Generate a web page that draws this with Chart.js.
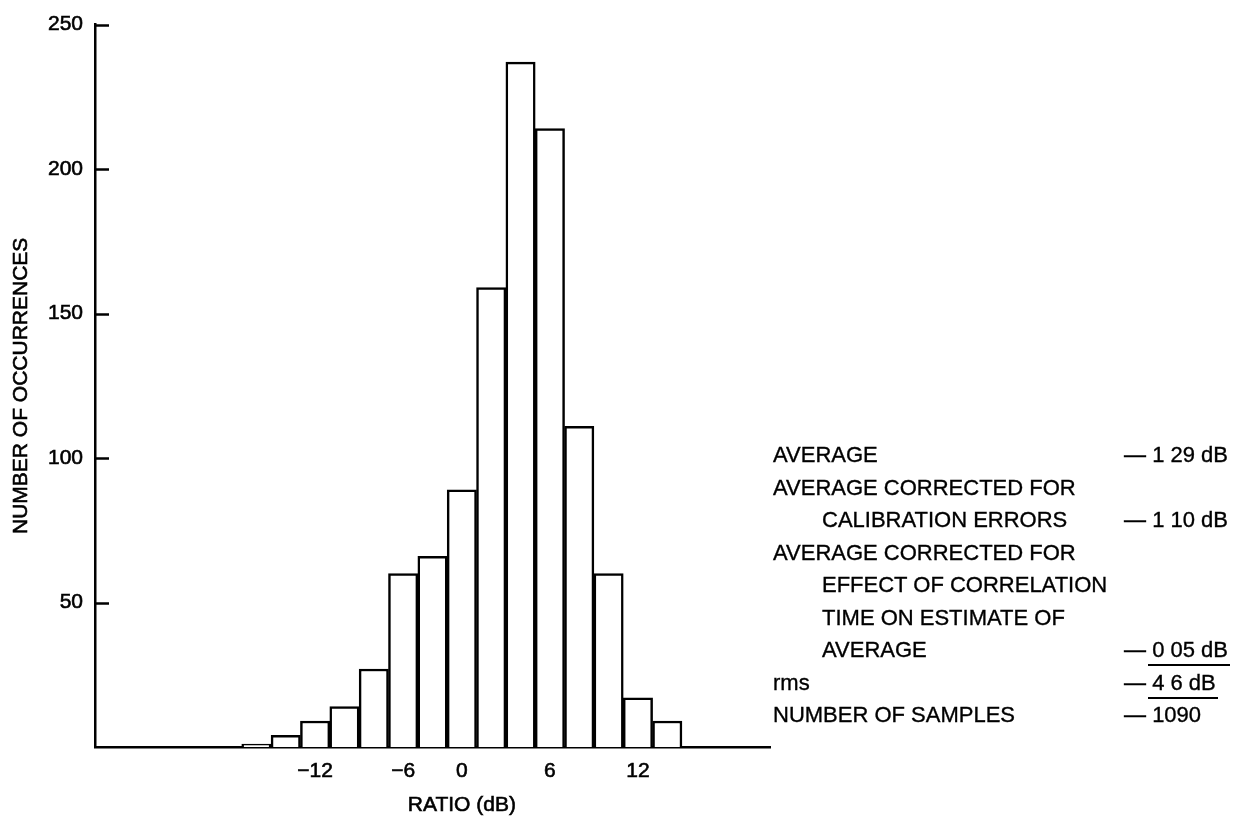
<!DOCTYPE html>
<html>
<head>
<meta charset="utf-8">
<title>Ratio histogram</title>
<script src="https://cdn.jsdelivr.net/npm/chart.js@4.4.1/dist/chart.umd.min.js"></script>
<style>
  html, body { margin: 0; padding: 0; background: #fff; }
  #wrap { position: relative; width: 1241px; height: 825px; overflow: hidden; }
  #hist { position: absolute; left: 0; top: 0; }
  .stats { position: absolute; left: 0; top: 0; width: 1241px; height: 825px;
           font-family: "Liberation Sans", Arial, Helvetica, sans-serif; font-size: 22px; color: #000;
           -webkit-text-stroke: 0.35px #000; }
  .lbl, .val { position: absolute; white-space: nowrap; line-height: 24px; }
  .ul { position: absolute; height: 2px; background: #000; }
</style>
</head>
<body>
<div id="wrap">
  <canvas id="hist" width="1241" height="825"></canvas>
  <div class="stats" id="stats"></div>
</div>
<script>
// Histogram bins of the ratio (dB); blank bins pad the axis on both sides
const binLabels = ['', '', '', '', '', '', '', '\u221212', '', '', '\u22126', '', '0', '', '', '6', '', '', '12', '', '', '', ''];
const occurrences = [null, null, null, null, null, 1, 4, 9, 14, 27, 60, 66, 89, 159, 237, 214, 111, 60, 17, 9, null, null, null];
const yTickValues = [0, 50, 100, 150, 200, 250];
const xTitle = 'RATIO (dB)';
const yTitle = 'NUMBER OF OCCURRENCES';
const xTitleBin = 12;

// Summary statistics printed beside the histogram
const statLabels = ['AVERAGE', 'AVERAGE CORRECTED FOR', 'CALIBRATION ERRORS', 'AVERAGE CORRECTED FOR',
                    'EFFECT OF CORRELATION', 'TIME ON ESTIMATE OF', 'AVERAGE', 'rms', 'NUMBER OF SAMPLES'];
const statIndent = [false, false, true, false, true, true, true, false, false];
const statValues = ['1 29 dB', '', '1 10 dB', '', '', '', '0 05 dB', '4 6 dB', '1090'];
const statUnderlined = [false, false, false, false, false, false, true, true, false];

const FONT = '"Liberation Sans", Arial, Helvetica, sans-serif';

// Tick marks pointing into the plot from the vertical axis
const innerTicks = {
  id: 'innerTicks',
  afterDraw(chart) {
    const y = chart.scales.y, ctx = chart.ctx, left = chart.chartArea.left;
    ctx.save();
    ctx.strokeStyle = '#000';
    ctx.lineWidth = 2.5;
    y.ticks.forEach(t => {
      if (t.value === 0) return;
      const py = Math.round(y.getPixelForValue(t.value)) + 0.5;
      ctx.beginPath();
      ctx.moveTo(left, py);
      ctx.lineTo(left + 14, py);
      ctx.stroke();
    });
    ctx.restore();
  }
};

// Axis titles: x title centred under the zero bin, y title rotated along the axis
const axisTitles = {
  id: 'axisTitles',
  afterDraw(chart) {
    const ctx = chart.ctx, x = chart.scales.x;
    ctx.save();
    ctx.fillStyle = '#000';
    ctx.strokeStyle = '#000';
    ctx.lineWidth = 0.6;
    ctx.font = '21px ' + FONT;
    ctx.textAlign = 'center';
    ctx.textBaseline = 'middle';
    const tx = x.getPixelForValue(xTitleBin);
    ctx.fillText(xTitle, tx, 805);
    ctx.strokeText(xTitle, tx, 805);
    ctx.translate(21, (chart.chartArea.top + chart.chartArea.bottom) / 2);
    ctx.rotate(-Math.PI / 2);
    ctx.fillText(yTitle, 0, 0);
    ctx.strokeText(yTitle, 0, 0);
    ctx.restore();
  }
};

new Chart(document.getElementById('hist'), {
  type: 'bar',
  data: {
    labels: binLabels,
    datasets: [{
      data: occurrences,
      backgroundColor: '#fff',
      borderColor: '#000',
      borderWidth: 2.5,
      borderSkipped: 'bottom',
      categoryPercentage: 1.0,
      barPercentage: 1.0
    }]
  },
  options: {
    responsive: false,
    animation: false,
    devicePixelRatio: 1,
    layout: { padding: { left: 0, top: 22, right: 471, bottom: 0 } },
    plugins: { legend: { display: false }, tooltip: { enabled: false } },
    scales: {
      x: {
        grid: { display: false, drawTicks: false },
        border: { display: true, color: '#000', width: 2.5 },
        ticks: {
          autoSkip: false, maxRotation: 0, minRotation: 0, padding: 12,
          color: '#000', font: { family: FONT, size: 21 },
          textStrokeColor: '#000', textStrokeWidth: 0.6,
          callback: (v, i) => binLabels[i]
        },
        afterFit(scale) { scale.height = 78; }
      },
      y: {
        min: 0, max: 250,
        afterBuildTicks(scale) { scale.ticks = yTickValues.map(v => ({ value: v })); },
        grid: { display: false, drawTicks: false },
        border: { display: true, color: '#000', width: 2.5 },
        ticks: {
          padding: 12, color: '#000', font: { family: FONT, size: 21 },
          textStrokeColor: '#000', textStrokeWidth: 0.6,
          callback: v => (v === 0 ? '' : v)
        },
        afterFit(scale) { scale.width = 95; }
      }
    }
  },
  plugins: [innerTicks, axisTitles]
});

// Summary block
(function () {
  const box = document.getElementById('stats');
  const top0 = 455, step = 32.5, leftX = 773, indentX = 822, valX = 1124;
  statLabels.forEach((txt, i) => {
    const cy = top0 + i * step;
    const l = document.createElement('div');
    l.className = 'lbl';
    l.textContent = txt;
    l.style.left = (statIndent[i] ? indentX : leftX) + 'px';
    l.style.top = (cy - 12) + 'px';
    box.appendChild(l);
    if (statValues[i]) {
      const v = document.createElement('div');
      v.className = 'val';
      v.style.left = valX + 'px';
      v.style.top = (cy - 12) + 'px';
      const dash = document.createElement('span');
      dash.textContent = '\u2014 ';
      const num = document.createElement('span');
      num.textContent = statValues[i];
      v.appendChild(dash);
      v.appendChild(num);
      box.appendChild(v);
      if (statUnderlined[i]) {
        const r = num.getBoundingClientRect();
        const u = document.createElement('div');
        u.className = 'ul';
        u.style.left = (r.left - 4) + 'px';
        u.style.width = (r.width + 6) + 'px';
        u.style.top = (cy + 14) + 'px';
        box.appendChild(u);
      }
    }
  });
})();
</script>
</body>
</html>
